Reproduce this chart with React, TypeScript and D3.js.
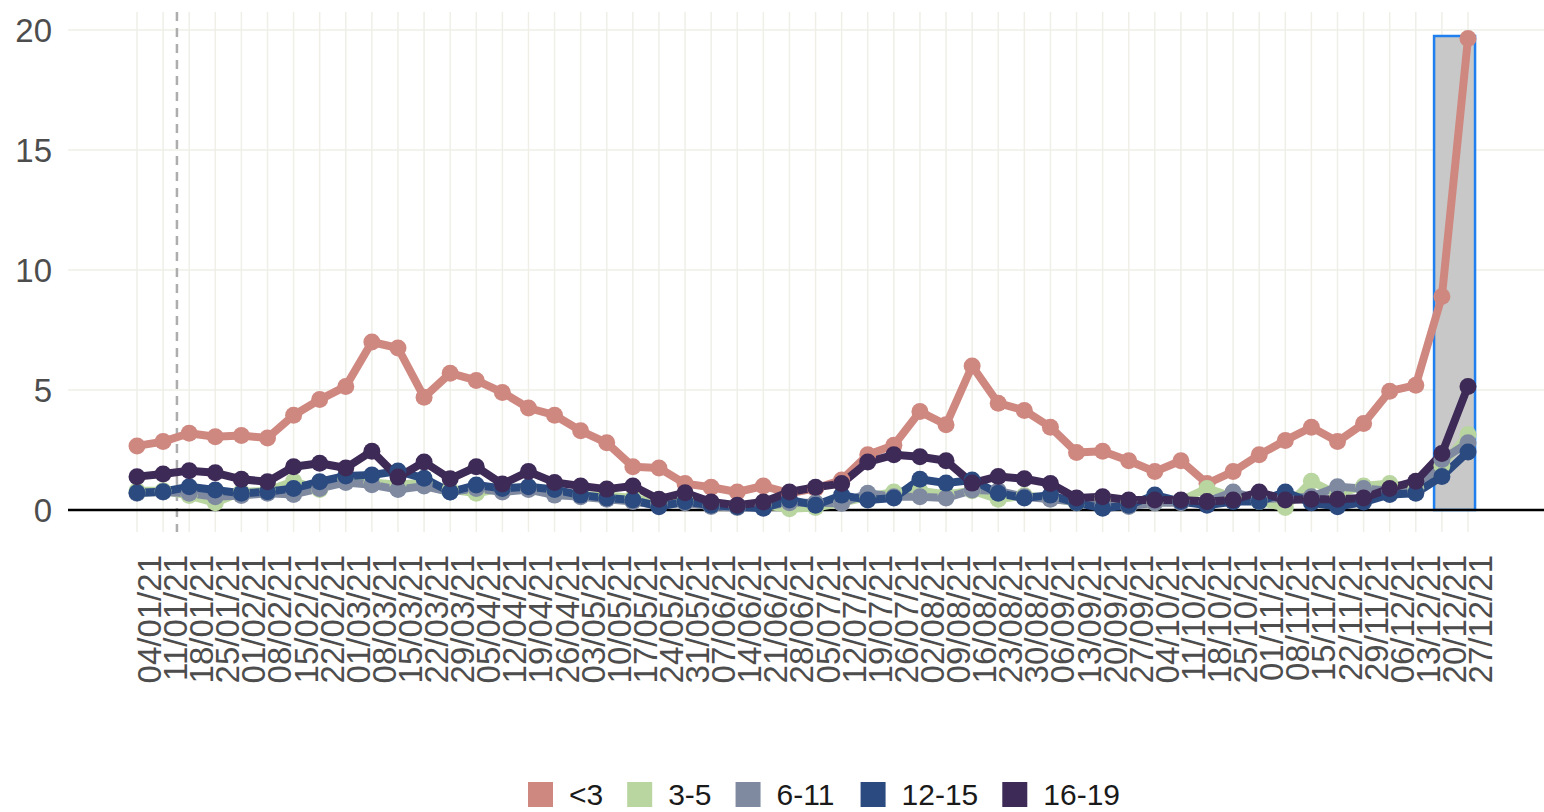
import * as d3 from "d3";

const dates = [
  "04/01/21", "11/01/21", "18/01/21", "25/01/21", "01/02/21", "08/02/21", "15/02/21", "22/02/21",
  "01/03/21", "08/03/21", "15/03/21", "22/03/21", "29/03/21", "05/04/21", "12/04/21", "19/04/21",
  "26/04/21", "03/05/21", "10/05/21", "17/05/21", "24/05/21", "31/05/21", "07/06/21", "14/06/21",
  "21/06/21", "28/06/21", "05/07/21", "12/07/21", "19/07/21", "26/07/21", "02/08/21", "09/08/21",
  "16/08/21", "23/08/21", "30/08/21", "06/09/21", "13/09/21", "20/09/21", "27/09/21", "04/10/21",
  "11/10/21", "18/10/21", "25/10/21", "01/11/21", "08/11/21", "15/11/21", "22/11/21", "29/11/21",
  "06/12/21", "13/12/21", "20/12/21", "27/12/21",
];

const under3 = [
  2.67, 2.85, 3.2, 3.05, 3.1, 3.0, 3.95, 4.6, 5.15, 7.0, 6.75, 4.7, 5.7, 5.4, 4.9, 4.25,
  3.95, 3.3, 2.8, 1.8, 1.75, 1.1, 0.95, 0.75, 1.0, 0.7, 0.9, 1.25, 2.3, 2.7, 4.1, 3.55,
  6.0, 4.45, 4.15, 3.45, 2.4, 2.45, 2.05, 1.6, 2.05, 1.1, 1.6, 2.3, 2.9, 3.45, 2.85, 3.6,
  4.95, 5.2, 8.9, 19.65,
];
const age3to5 = [
  0.8, 0.8, 0.6, 0.3, 0.75, 0.8, 1.2, 0.85, 1.3, 1.15, 1.05, 1.15, 0.85, 0.7, 0.9, 0.9,
  0.75, 0.6, 0.6, 0.5, 0.3, 0.4, 0.2, 0.15, 0.2, 0.05, 0.1, 0.3, 0.55, 0.75, 0.8, 0.65,
  0.8, 0.45, 0.6, 0.5, 0.3, 0.5, 0.35, 0.3, 0.4, 0.9, 0.55, 0.35, 0.1, 1.2, 0.65, 1.0,
  1.1, 0.9, 1.85, 3.15,
];
const age6to11 = [
  0.7, 0.75, 0.7, 0.55, 0.6, 0.7, 0.65, 0.9, 1.15, 1.05, 0.85, 1.0, 0.75, 0.9, 0.75, 0.85,
  0.62, 0.55, 0.45, 0.35, 0.2, 0.3, 0.15, 0.1, 0.15, 0.3, 0.3, 0.28, 0.7, 0.55, 0.55, 0.5,
  0.83, 0.8, 0.55, 0.45, 0.35, 0.2, 0.15, 0.3, 0.3, 0.35, 0.75, 0.45, 0.5, 0.55, 0.97, 0.9,
  0.8, 0.75, 2.1, 2.8,
];
const age12to15 = [
  0.72, 0.76, 0.97, 0.83, 0.7, 0.76, 0.9, 1.18, 1.42, 1.46, 1.62, 1.32, 0.75, 1.04, 0.9, 0.97,
  0.85, 0.62, 0.5, 0.42, 0.14, 0.35, 0.2, 0.14, 0.07, 0.42, 0.2, 0.62, 0.42, 0.5, 1.28, 1.12,
  1.25, 0.7, 0.5, 0.62, 0.3, 0.07, 0.2, 0.62, 0.35, 0.2, 0.35, 0.35, 0.75, 0.3, 0.14, 0.33,
  0.65, 0.7, 1.4, 2.42,
];
const age16to19 = [
  1.39, 1.5, 1.64, 1.55, 1.28, 1.18, 1.8, 1.95, 1.75, 2.45, 1.37, 2.0, 1.3, 1.8, 1.08, 1.6,
  1.15, 1.0, 0.87, 1.0, 0.45, 0.72, 0.33, 0.2, 0.33, 0.75, 0.95, 1.1, 2.0, 2.3, 2.22, 2.05,
  1.12, 1.4, 1.3, 1.1, 0.5, 0.55, 0.42, 0.42, 0.42, 0.35, 0.42, 0.75, 0.42, 0.45, 0.45, 0.5,
  0.9, 1.2, 2.35, 5.15,
];

const groups = ["<3", "3-5", "6-11", "12-15", "16-19"];
const colors = ["#cf8880", "#b9d5a0", "#7f8aa0", "#2b4a80", "#3e2a56"];
const seriesValues = [under3, age3to5, age6to11, age12to15, age16to19];
const yTicks = [0, 5, 10, 15, 20];

// highlighted window (last two weeks) and the dashed marker
const highlightFrom = 49.7;
const highlightTo = 51.27;
const highlightTop = 19.75;
const markerAt = 1.53;

const W = 1544;
const H = 812;
const font = "Arial, 'Liberation Sans', sans-serif";

export default function App() {
  const x = d3.scaleLinear().domain([0, dates.length - 1]).range([137, 1468]);
  const y = d3.scaleLinear().domain([0, 20]).range([510, 30]);
  const panel = { left: 68, right: W, top: 12, bottom: 532 };

  const line = d3
    .line<number>()
    .x((_, i) => x(i))
    .y((d) => y(d));

  // legend layout
  const legendFont = 30;
  const textW = (s: string) =>
    s.split("").reduce((a, c) => a + (c === "-" ? 0.333 : c === "<" ? 0.584 : 0.556), 0) * legendFont;
  let lx = 528;
  const legendItems = groups.map((g, i) => {
    const item = { g, color: colors[i], x: lx };
    lx += 25 + 16 + textW(g) + 24;
    return item;
  });

  return (
    <svg
      width={W}
      height={H}
      style={{ position: "absolute", left: 0, top: 0, background: "#fff" }}
      fontFamily={font}
    >
      {/* grid */}
      <g stroke="#efefe8" strokeWidth={1.5}>
        {yTicks.map((t) => (
          <line key={"h" + t} x1={panel.left} x2={panel.right} y1={y(t)} y2={y(t)} />
        ))}
        {dates.map((d, i) => (
          <line key={"v" + d} x1={x(i)} x2={x(i)} y1={panel.top} y2={panel.bottom} />
        ))}
      </g>

      {/* highlight box */}
      <rect
        x={x(highlightFrom)}
        y={y(highlightTop)}
        width={x(highlightTo) - x(highlightFrom)}
        height={y(0) - y(highlightTop)}
        fill="#c8c8c8"
        stroke="#1f7fef"
        strokeWidth={2.5}
      />

      {/* dashed marker */}
      <line
        x1={x(markerAt)}
        x2={x(markerAt)}
        y1={panel.top}
        y2={panel.bottom}
        stroke="#adadad"
        strokeWidth={2.5}
        strokeDasharray="9,7"
      />

      {/* zero line */}
      <line x1={panel.left} x2={panel.right} y1={y(0)} y2={y(0)} stroke="#000" strokeWidth={2.5} />

      {/* lines */}
      {seriesValues.map((vals, k) => (
        <path
          key={"l" + k}
          d={line(vals) ?? ""}
          fill="none"
          stroke={colors[k]}
          strokeWidth={8}
          strokeLinejoin="round"
        />
      ))}
      {/* points */}
      {seriesValues.map((vals, k) => (
        <g key={"p" + k} fill={colors[k]}>
          {vals.map((v, i) => (
            <circle key={i} cx={x(i)} cy={y(v)} r={8.5} />
          ))}
        </g>
      ))}

      {/* y axis labels */}
      {yTicks.map((t) => (
        <text
          key={"yt" + t}
          x={52}
          y={y(t)}
          dy="0.36em"
          textAnchor="end"
          fontSize={33}
          fill="#4d4d4d"
        >
          {t}
        </text>
      ))}

      {/* x axis labels */}
      {dates.map((d, i) => (
        <text
          key={"xt" + d}
          transform={`translate(${x(i) + 24},555) rotate(-90)`}
          textAnchor="end"
          fontSize={33}
          fill="#4d4d4d"
        >
          {d}
        </text>
      ))}

      {/* legend */}
      {legendItems.map((it) => (
        <g key={"lg" + it.g}>
          <rect x={it.x} y={782} width={25} height={25} fill={it.color} />
          <text x={it.x + 25 + 16} y={805} fontSize={legendFont} fill="#1a1a1a">
            {it.g}
          </text>
        </g>
      ))}
    </svg>
  );
}
